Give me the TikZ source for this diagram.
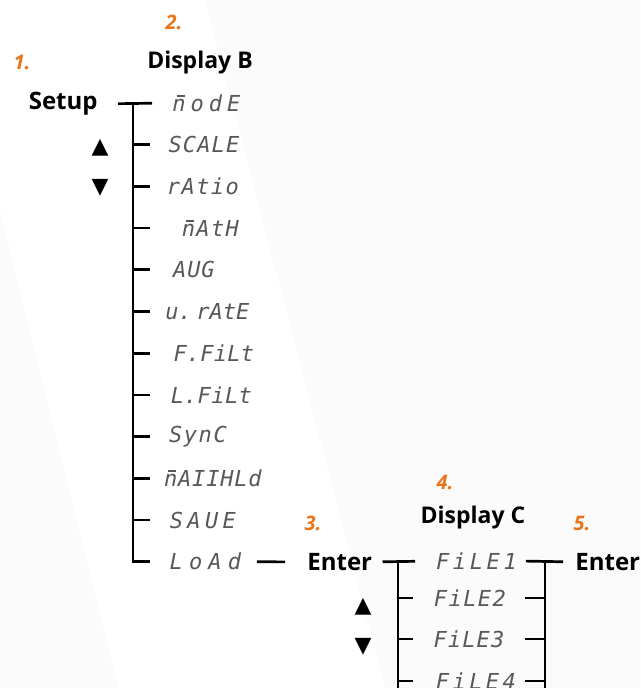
\documentclass[tikz,border=0pt]{standalone}
\usepackage{fontspec}
\setmainfont{Open Sans}
\newfontfamily\segfont{DejaVu Sans Mono}
\newfontfamily\symfont{DejaVu Sans}
\definecolor{steporange}{HTML}{E97419}
\definecolor{seggray}{HTML}{585858}
\definecolor{bgshade}{HTML}{FBFBFB}
\newcommand{\segtext}[2]{\makebox[#1pt]{\spaceskip=0pt plus 1fil\relax #2}}
\newcommand{\segm}{\ooalign{n\cr\hfil\kern0.14em\raisebox{0.66em}{\rule{0.36em}{0.075em}}\hfil\cr}}

\begin{document}
\begin{tikzpicture}[x=0.5pt,y=-0.5pt,
    menu/.style={font=\fontsize{12}{14}\selectfont\bfseries,inner sep=0pt},
    title/.style={font=\fontsize{11.5}{14}\selectfont\bfseries,inner sep=0pt},
    num/.style={font=\fontsize{10}{12}\selectfont\bfseries\itshape,text=steporange},
    seg/.style={font=\fontsize{11}{12}\segfont\itshape,text=seggray,anchor=west,inner sep=0pt},
    key/.style={font=\fontsize{11}{12}\symfont},
    tree/.style={line width=1.35pt}]
  \useasboundingbox (0,0) rectangle (640,688);
  \fill[white] (0,0) rectangle (640,688);
  \fill[bgshade] (0,210) -- (118,688) -- (0,688) -- cycle;
  \fill[bgshade] (205,0) -- (640,0) -- (640,688) -- (385,688) -- cycle;

  \node[num] (n1) at (22,63) {1.};
  \node[num] (n2) at (174,22) {2.};
  \node[num] (n3) at (313,523) {3.};
  \node[num] (n4) at (445,482) {4.};
  \node[num] (n5) at (582,523) {5.};

  \node[title] (dispb) at (200,63) {Display B};
  \node[menu,anchor=east] (setup) at (98,104) {Setup};
  \node[key] (bup) at (100,148) {▲};
  \node[key] (bdown) at (100,188) {▼};

  \foreach \i/\w/\xs/\txt in {1/39/167/\segm{} o d E, 2/36.5/167/S C A L E,
      3/37.5/165/r A t i o, 4/30/180/\segm{} A t H, 5/21.5/172/A U G,
      6/40/167/u. r A t E, 7/40.5/173/F. F i L t, 8/41/170/L. F i L t,
      9/30.5/167/S y n C, 10/49.5/163/\segm{} A I I H L d, 11/37.5/165/S A U E,
      12/42/163/L o A d} {
    \coordinate (bt\i) at (133,{103+41.7*(\i-1)});
    \coordinate (bk\i) at (150,{103+41.7*(\i-1)});
    \node[seg] (b\i) at (\xs,{103+41.7*(\i-1)}) {\segtext{\w}{\txt}};
  }
  \draw[tree,shorten <=10pt,shorten >=7.5pt] (setup.east) -- (b1.west);
  \draw[tree] (bt1) -- (bt12) -- (bk12);
  \foreach \i in {2,...,11}
    \draw[tree] (bt\i) -- (bk\i);

  \node[menu,anchor=west] (enter1) at (307,562) {Enter};
  \draw[tree,shorten <=4.5pt,shorten >=11pt] (b12.east) -- (enter1.west);

  \node[title] (dispc) at (473,518) {Display C};
  \node[key] (cup) at (363,607) {▲};
  \node[key] (cdown) at (363,647) {▼};
  \foreach \i/\w/\y in {1/44/561, 2/37.5/598, 3/36.5/639, 4/43.5/681} {
    \coordinate (ct\i) at (398,\y);
    \coordinate (ck\i) at (413,\y);
    \coordinate (cl\i) at (525,\y);
    \coordinate (cr\i) at (545,\y);
    \node[seg] (c\i) at (432,\y) {\segtext{\w}{F i L E \i}};
  }
  \coordinate (cbl) at (398,700);
  \coordinate (cbr) at (545,700);
  \node[menu,anchor=west] (enter2) at (575,562) {Enter};
  \draw[tree,shorten <=5pt,shorten >=8.5pt] (enter1.east) -- (c1.west);
  \draw[tree,shorten <=2.5pt,shorten >=6pt] (c1.east) -- (enter2.west);
  \draw[tree] (ct1) -- (cbl);
  \draw[tree] (cr1) -- (cbr);
  \foreach \i in {2,3,4} {
    \draw[tree] (ct\i) -- (ck\i);
    \draw[tree] (cl\i) -- (cr\i);
  }
\end{tikzpicture}
\end{document}
